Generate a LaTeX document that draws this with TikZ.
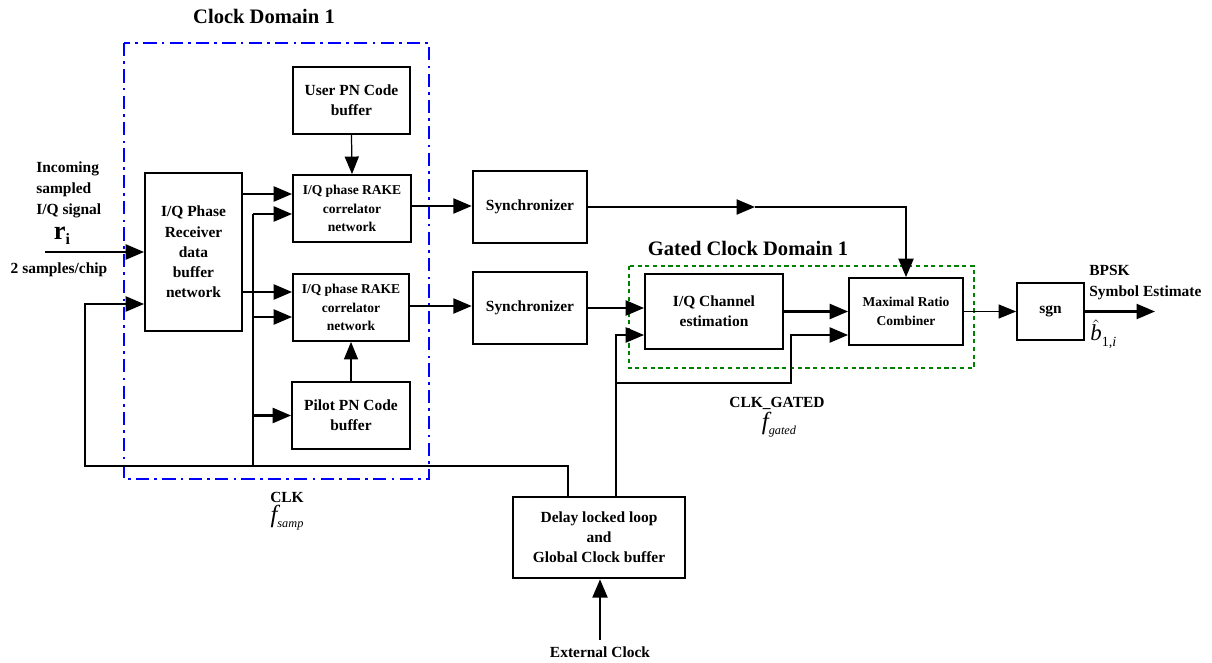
\documentclass[tikz,border=0pt]{standalone}
\usepackage{fontspec}
\setmainfont{Liberation Serif}
\usetikzlibrary{arrows.meta}
\begin{document}
\begin{tikzpicture}[x=0.02cm,y=-0.02cm,
  box/.style={draw, line width=1pt, inner sep=0pt, align=center, font=\fontsize{8.8}{11.5}\selectfont\bfseries},
  smallbox/.style={box, font=\fontsize{7.7}{10.4}\selectfont\bfseries},
  lbl/.style={inner sep=0pt, align=center, font=\fontsize{8.8}{12}\selectfont\bfseries},
  title/.style={inner sep=0pt, font=\fontsize{11.7}{14}\selectfont\bfseries},
  arr/.style={line width=1.4pt, -{Triangle[length=10.5pt,width=8.5pt]}},
  tarr/.style={line width=0.7pt, -{Triangle[length=10pt,width=8pt]}},
  wire/.style={line width=1.4pt},
  clkdomain/.style={blue, line width=1.1pt, dash pattern=on 7.5pt off 3pt on 1.5pt off 3pt},
  gateddomain/.style={green!50!black, line width=1.3pt, dash pattern=on 2.4pt off 2pt}]
\useasboundingbox (0,0) rectangle (1212,662);

% domains
\draw[clkdomain] (124,43) rectangle (429,479);
\draw[gateddomain] (629,266) rectangle (974,368);
\node[title] (t1) at (264,16) {Clock Domain 1};
\node[title] (t2) at (748,248) {Gated Clock Domain 1};

% blocks
\node[box, minimum width=1.94cm, minimum height=3.16cm] (rx) at (193.5,252) {I/Q Phase\\Receiver\\data\\buffer\\network};
\node[box, minimum width=2.34cm, minimum height=1.34cm] (usr) at (351.5,100.5) {User PN Code\\buffer};
\node[smallbox, minimum width=2.36cm, minimum height=1.34cm] (rake1) at (352,208.5) {I/Q phase RAKE\\correlator\\network};
\node[smallbox, minimum width=2.32cm, minimum height=1.34cm] (rake2) at (351,307.5) {I/Q phase RAKE\\correlator\\network};
\node[box, minimum width=2.36cm, minimum height=1.34cm] (pilot) at (351,415.5) {Pilot PN Code\\buffer};
\node[box, line width=1.4pt, minimum width=2.28cm, minimum height=1.44cm] (sync1) at (530,207) {Synchronizer};
\node[box, line width=1.4pt, minimum width=2.28cm, minimum height=1.44cm] (sync2) at (530,308) {Synchronizer};
\node[box, minimum width=2.76cm, minimum height=1.5cm] (chest) at (714,311.5) {I/Q Channel\\estimation};
\node[smallbox, minimum width=2.28cm, minimum height=1.34cm] (mrc) at (906,311.5) {Maximal Ratio\\Combiner};
\node[box, minimum width=1.34cm, minimum height=1.14cm] (sgn) at (1050.5,311.5) {sgn};
\node[box, line width=1.4pt, minimum width=3.44cm, minimum height=1.62cm] (dll) at (599,537.5) {Delay locked loop\\and\\Global Clock buffer};

% labels
\node[lbl, align=left, anchor=west] (inc) at (36,190) {Incoming\\sampled\\I/Q signal};
\node[inner sep=0pt] (ri) at (62,236) {\fontsize{15}{15}\selectfont\bfseries r\raisebox{-3pt}{\fontsize{9}{9}\selectfont i}};
\node[lbl] (spc) at (59,270) {2 samples/chip};
\node[lbl] (clk) at (287,497) {CLK};
\node[inner sep=0pt] (fs) at (287,518) {{\fontsize{14}{14}\selectfont\itshape f}\raisebox{-3pt}{\fontsize{7}{7}\selectfont\itshape samp}};
\node[lbl] (clkg) at (777,403) {CLK\_GATED};
\node[inner sep=0pt] (fg) at (779,425) {{\fontsize{14}{14}\selectfont\itshape f}\raisebox{-3pt}{\fontsize{7}{7}\selectfont\itshape gated}};
\node[lbl, align=left, anchor=west] (bpsk) at (1089,283) {BPSK\\Symbol Estimate};
\node[inner sep=0pt, anchor=west] (bh) at (1090,334) {{\fontsize{13}{13}\selectfont$\hat{\textit{b}}$}\raisebox{-3pt}{\fontsize{8}{8}\selectfont 1,\textit{i}}};
\node[lbl] (ext) at (600,652) {External Clock};

% input
\coordinate (in) at (45,252);
\draw[arr] (in) -- (rx.west);

% clock tree
\coordinate (bl) at (85,466);
\coordinate (bus) at (253,466);
\draw[arr] ([xshift=-0.62cm]dll.north) |- (bl) |- (rx.west |- 0,304);
\draw[wire] (bus) -- (253,214);
\draw[arr] (253,214) -- (rake1.west |- 0,214);
\draw[arr] (253,317) -- (rake2.west |- 0,317);
\draw[arr] (253,415.5) -- (pilot.west);

% receiver to rake
\draw[arr] (rx.east |- 0,194) -- (rake1.west |- 0,194);
\draw[arr] (rx.east |- 0,292) -- (rake2.west |- 0,292);
\draw[tarr] (usr.south) -- (rake1.north);
\draw[tarr] (pilot.north) -- (rake2.south);

% rake to sync
\draw[arr] (rake1.east |- 0,206) -- (sync1.west |- 0,206);
\draw[arr] (rake2.east |- 0,306) -- (sync2.west |- 0,306);

% sync1 to mrc
\coordinate (mid) at (755,207);
\draw[arr] (sync1.east) -- (mid);
\draw[arr] (mid) -| (mrc.north);

% sync2 to channel estimation
\draw[arr] (sync2.east |- 0,308) -- (chest.west |- 0,308);
\draw[arr] (chest.east) -- (mrc.west);

% gated clock
\coordinate (gj) at (616,383);
\draw[arr] (dll.north -| 616,0) |- (chest.west |- 0,335);
\draw[arr] (gj) -| (791,335) -- (mrc.west |- 0,335);

% output
\draw[tarr] (mrc.east) -- (sgn.west);
\coordinate (out) at (1155,311.5);
\draw[arr] (sgn.east) -- (out);

% external clock
\coordinate (ec) at (600,640);
\draw[arr] (ec) -- (dll.south -| ec);
\end{tikzpicture}
\end{document}
